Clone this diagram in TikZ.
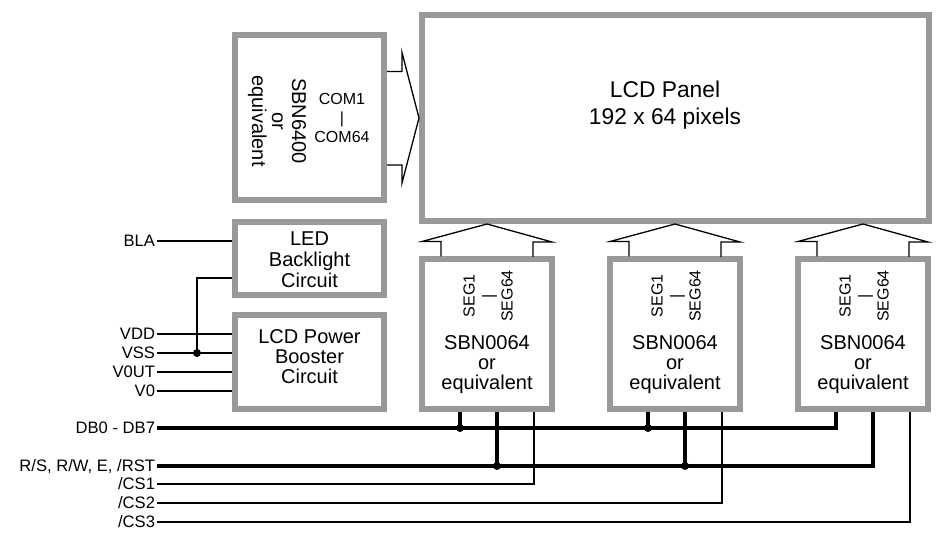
\documentclass[tikz,border=0pt]{standalone}
\usepackage{fontspec}
\setmainfont{Liberation Sans}
\usetikzlibrary{positioning,calc}
\colorlet{chip gray}{black!40}
\tikzstyle{chip} = [draw=chip gray,line width=3pt,fill=white,inner sep=0pt]
\tikzstyle{wire} = [line width=.65pt]
\tikzstyle{bus} = [line width=2.2pt]
\tikzstyle{hollow} = [line width=.65pt,line join=miter]
\tikzstyle{dot} = [fill=black,circle,inner sep=0pt,minimum size=4pt]
\tikzstyle{pin} = [anchor=east,inner xsep=1pt,inner ysep=0pt,outer sep=0pt,text height=6pt,text depth=0pt,font=\fontsize{8.3}{10}\selectfont]
\tikzstyle{boxtext} = [align=center,font=\fontsize{10}{10}\selectfont]
\tikzstyle{small} = [align=center,font=\fontsize{8}{9.5}\selectfont]

\begin{document}
\begin{tikzpicture}[x=0.5pt,y=-0.5pt]
    \useasboundingbox (0,0) rectangle (942,544);

    % blocks
    \node[chip,minimum width=253.5pt,minimum height=103pt] (panel) at (675.5,118) {};
    \node[chip,minimum width=74.5pt,minimum height=82.5pt] (com) at (309.5,117.5) {};
    \node[chip,minimum width=74.5pt,minimum height=36.5pt] (led) at (309.5,259) {};
    \node[chip,minimum width=74.5pt,minimum height=47pt] (pwr) at (309.5,362.5) {};
    \node[chip,minimum width=65pt,minimum height=75pt] (seg1) at (487,334.5) {};
    \node[chip,minimum width=65pt,minimum height=75pt] (seg2) at (675,334.5) {};
    \node[chip,minimum width=65pt,minimum height=75pt] (seg3) at (863,334.5) {};

    \node[align=center,font=\fontsize{11.4}{13.5}\selectfont] (paneltext) at (665,105) {LCD Panel\\192 x 64 pixels};
    \node[boxtext,rotate=-90] (comname) at (277,121) {SBN6400\\or\\equivalent};
    \node[small] (comlines) at (342,118) {COM1\\|\\COM64};
    \node[boxtext,font=\fontsize{10}{10.5}\selectfont] (ledtext) at (309.5,260) {LED\\Backlight\\Circuit};
    \node[boxtext] (pwrtext) at (309.5,357) {LCD Power\\Booster\\Circuit};

    \node[small,rotate=90] (seglines1) at ($(seg1.center)+(1,-38.5)$) {SEG1\\|\\SEG64};
    \node[small,rotate=90] (seglines2) at ($(seg2.center)+(1,-38.5)$) {SEG1\\|\\SEG64};
    \node[small,rotate=90] (seglines3) at ($(seg3.center)+(1,-38.5)$) {SEG1\\|\\SEG64};
    \node[boxtext] (segname1) at ($(seg1.center)+(0,30.5)$) {SBN0064\\or\\equivalent};
    \node[boxtext] (segname2) at ($(seg2.center)+(0,30.5)$) {SBN0064\\or\\equivalent};
    \node[boxtext] (segname3) at ($(seg3.center)+(0,30.5)$) {SBN0064\\or\\equivalent};

    % hollow arrows into the panel
    \draw[hollow] ($(com.east)+(0,-46)$) -- ++(15,0) -- ++(0,-19) -- (panel.west)
        -- ++(-17,65) -- ++(0,-18) -- ++(-15,0);
    \draw[hollow] ($(seg1.north)+(-46,0)$) -- ++(0,-15) -- ++(-19,0) -- (seg1.north |- panel.south)
        -- ++(65,18) -- ++(-19,0) -- ++(0,15);
    \draw[hollow] ($(seg2.north)+(-46,0)$) -- ++(0,-15) -- ++(-19,0) -- (seg2.north |- panel.south)
        -- ++(65,18) -- ++(-19,0) -- ++(0,15);
    \draw[hollow] ($(seg3.north)+(-46,0)$) -- ++(0,-15) -- ++(-19,0) -- (seg3.north |- panel.south)
        -- ++(65,18) -- ++(-19,0) -- ++(0,15);

    % pins
    \node[pin] (bla) at (157,241) {BLA};
    \node[pin] (vdd) at (157,334) {VDD};
    \node[pin] (vss) at (157,353) {VSS};
    \node[pin] (vout) at (157,372) {V0UT};
    \node[pin] (vzero) at (157,391) {V0};
    \node[pin] (db) at (157,428) {DB0 - DB7};
    \node[pin] (rs) at (157,466) {R/S, R/W, E, /RST};
    \node[pin] (cs1) at (157,484) {/CS1};
    \node[pin] (cs2) at (157,503) {/CS2};
    \node[pin] (cs3) at (157,522) {/CS3};

    \draw[wire] (bla.east) to (bla.east -| led.west);
    \draw[wire] (vdd.east) to (vdd.east -| pwr.west);
    \draw[wire] (vss.east) to (vss.east -| pwr.west);
    \draw[wire] (vout.east) to (vout.east -| pwr.west);
    \draw[wire] (vzero.east) to (vzero.east -| pwr.west);

    \node[dot] (jvss) at (197,353) {};
    \draw[wire] (jvss.center) |- ($(led.west)+(0,19)$);

    % taps under the segment drivers
    \coordinate (d1) at ($(seg1.south west)+(41,0)$);
    \coordinate (d2) at ($(seg2.south west)+(41,0)$);
    \coordinate (d3) at ($(seg3.south west)+(41,0)$);
    \coordinate (r1) at ($(seg1.south west)+(78,0)$);
    \coordinate (r2) at ($(seg2.south west)+(78,0)$);
    \coordinate (r3) at ($(seg3.south west)+(78,0)$);
    \coordinate (c1) at ($(seg1.south west)+(115,0)$);
    \coordinate (c2) at ($(seg2.south west)+(115,0)$);
    \coordinate (c3) at ($(seg3.south west)+(115,0)$);

    \draw[bus] (db.east) -| (d3);
    \draw[bus] (rs.east) -| (r3);
    \node[dot] (jd1) at (d1 |- db.east) {};
    \node[dot] (jd2) at (d2 |- db.east) {};
    \node[dot] (jr1) at (r1 |- rs.east) {};
    \node[dot] (jr2) at (r2 |- rs.east) {};
    \draw[bus] (d1) to (jd1.center);
    \draw[bus] (d2) to (jd2.center);
    \draw[bus] (r1) to (jr1.center);
    \draw[bus] (r2) to (jr2.center);

    \draw[wire] (cs1.east) -| (c1);
    \draw[wire] (cs2.east) -| (c2);
    \draw[wire] (cs3.east) -| (c3);
\end{tikzpicture}
\end{document}
